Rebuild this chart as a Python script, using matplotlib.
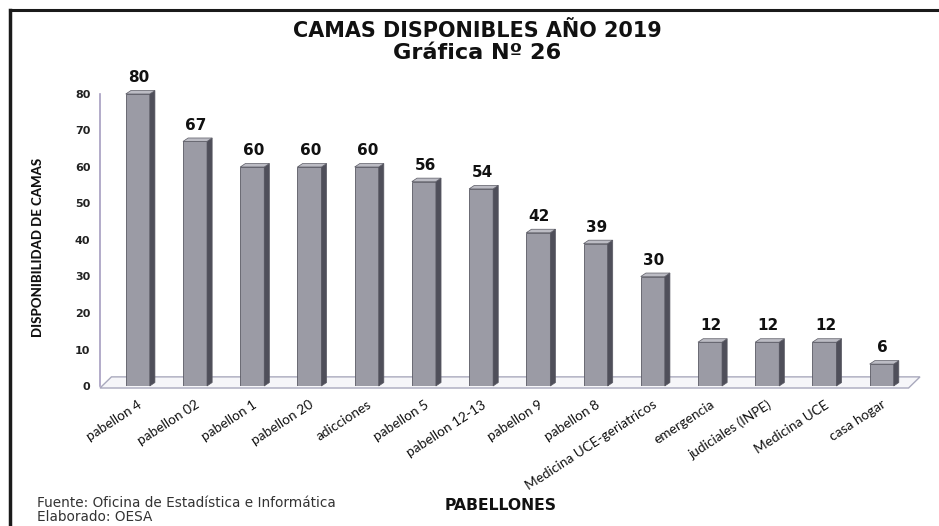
import matplotlib
matplotlib.use("Agg")
import matplotlib.pyplot as plt
from matplotlib.patches import Polygon
from matplotlib.lines import Line2D

# ---- data ----
categories = ["pabellon 4", "pabellon 02", "pabellon 1", "pabellon 20", "adicciones",
              "pabellon 5", "pabellon 12-13", "pabellon 9", "pabellon 8",
              "Medicina UCE-geriatricos", "emergencia", "judiciales (INPE)",
              "Medicina UCE", "casa hogar"]
values = [80, 67, 60, 60, 60, 56, 54, 42, 39, 30, 12, 12, 12, 6]
yticks = [0, 10, 20, 30, 40, 50, 60, 70, 80]

title1 = "CAMAS DISPONIBLES AÑO 2019"
title2 = "Gráfica Nº 26"
ylabel = "DISPONIBILIDAD DE CAMAS"
xlabel = "PABELLONES"
source1 = "Fuente: Oficina de Estadística e Informática"
source2 = "Elaborado: OESA"

W, H = 939, 526
fig = plt.figure(figsize=(W / 100, H / 100), dpi=100)
fig.patch.set_facecolor("white")
renderer = fig.canvas.get_renderer()


def fit(t, target_px, horizontal=True):
    bb = t.get_window_extent(renderer=renderer)
    cur = bb.width if horizontal else bb.height
    t.set_fontsize(t.get_fontsize() * target_px / cur)


left, right, bottom, top = 100, 920, 386, 94
ax = fig.add_axes([left / W, 1 - bottom / H, (right - left) / W, (bottom - top) / H])
ax.set_facecolor("none")
ax.set_xlim(-0.66, 13.67)
ax.set_ylim(0, 80)

# 3D-ish parameters (in data units)
w = 0.42
dx = 0.09
dy = 0.95

front_c = "#9b9ba5"
side_c = "#4f4f5a"
top_c = "#bcbcc4"
edge_c = "#5a5a64"

# floor
x0, x1 = ax.get_xlim()
floor = Polygon([(x0, -0.55), (x1 - 0.2, -0.55), (x1, 2.5), (x0 + 0.2, 2.5)],
                closed=True, facecolor="#f6f6f9", edgecolor="#a9a9bd", lw=1.0,
                clip_on=False, zorder=1)
ax.add_patch(floor)

xs = list(range(len(values)))
ax.bar(xs, values, width=w, color=front_c, edgecolor=edge_c, linewidth=0.6, zorder=3)
for i, v in zip(xs, values):
    side = Polygon([(i + w / 2, 0), (i + w / 2 + dx, dy), (i + w / 2 + dx, v + dy), (i + w / 2, v)],
                   closed=True, facecolor=side_c, edgecolor=edge_c, lw=0.5, zorder=3, clip_on=False)
    topf = Polygon([(i - w / 2, v), (i - w / 2 + dx, v + dy), (i + w / 2 + dx, v + dy), (i + w / 2, v)],
                   closed=True, facecolor=top_c, edgecolor=edge_c, lw=0.5, zorder=3, clip_on=False)
    ax.add_patch(side)
    ax.add_patch(topf)
    ax.text(i + 0.02, v + 2.4, str(v), ha="center", va="bottom", fontsize=11,
            fontweight="bold", color="#111111", family="DejaVu Sans", zorder=4)

# axes styling
for s in ["top", "right", "bottom"]:
    ax.spines[s].set_visible(False)
ax.spines["left"].set_color("#a59dc0")
ax.spines["left"].set_linewidth(1.2)
ax.set_yticks(yticks)
ax.set_yticklabels([str(t) for t in yticks], fontsize=8, fontweight="bold",
                   color="#222222", family="DejaVu Sans")
ax.tick_params(axis="y", length=0, pad=7)
ax.set_xticks(xs)
ax.set_xticklabels(categories, rotation=33, ha="right", va="top",
                   rotation_mode="anchor", fontsize=9.8, family="Lato", color="#111111")
ax.tick_params(axis="x", length=0, pad=9)

yl = fig.text(38 / W, 1 - 247 / H, ylabel, rotation=90, ha="center", va="center",
              fontsize=10, fontweight=900, family="Lato", color="#111111")
fit(yl, 178, horizontal=False)

# titles & texts
t1 = fig.text(477 / W, 1 - 31 / H, title1, ha="center", va="center", fontsize=13,
              fontweight="bold", family="DejaVu Sans", color="#111111")
fit(t1, 367)
t2 = fig.text(477 / W, 1 - 53 / H, title2, ha="center", va="center", fontsize=13,
              fontweight="bold", family="DejaVu Sans", color="#111111")
fit(t2, 167)
xl = fig.text(501 / W, 1 - 505 / H, xlabel, ha="center", va="center", fontsize=10,
              fontweight="bold", family="DejaVu Sans", color="#111111")
fit(xl, 113)
s1 = fig.text(37 / W, 1 - 503 / H, source1, ha="left", va="center", fontsize=7,
              family="DejaVu Sans", color="#333333")
fit(s1, 300)
s2 = fig.text(37 / W, 1 - 517 / H, source2, ha="left", va="center",
              fontsize=s1.get_fontsize(), family="DejaVu Sans", color="#333333")

# outer frame (left and top edges visible)
fig.add_artist(Line2D([9.5 / W, 9.5 / W], [0, 1 - 10 / H], transform=fig.transFigure,
                      color="#1a1a1a", lw=2.5))
fig.add_artist(Line2D([9.5 / W, 1], [1 - 10 / H, 1 - 10 / H], transform=fig.transFigure,
                      color="#1a1a1a", lw=2.2))

fig.savefig("out.png", dpi=100, facecolor="white")
